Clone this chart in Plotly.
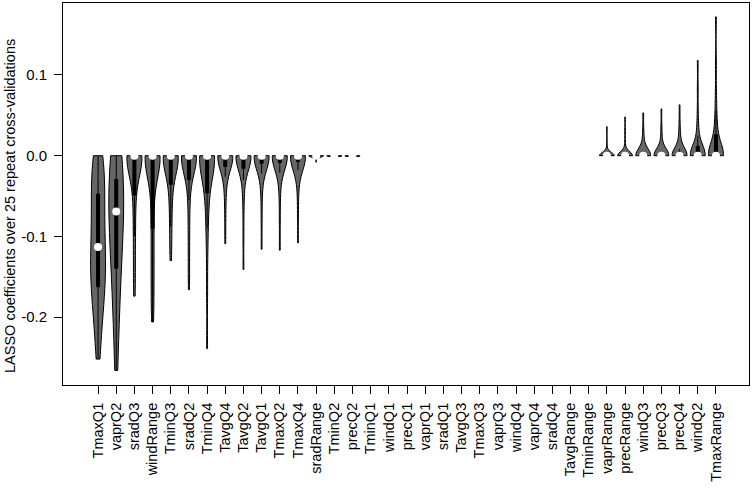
import numpy as np
import plotly.graph_objects as go

# ---------------- data (LASSO coefficients, 25 repeats per variable) ----------------
variables = ["TmaxQ1", "vaprQ2", "sradQ3", "windRange", "TminQ3", "sradQ2", "TminQ4",
             "TavgQ4", "TavgQ2", "TavgQ1", "TmaxQ2", "TmaxQ4", "sradRange", "TminQ2",
             "precQ2", "TminQ1", "windQ1", "precQ1", "vaprQ1", "sradQ1", "TavgQ3",
             "TmaxQ3", "vaprQ3", "windQ4", "vaprQ4", "sradQ4", "TavgRange", "TminRange",
             "vaprRange", "precRange", "windQ3", "precQ3", "precQ4", "windQ2", "TmaxRange"]

coef_TmaxQ1 = [0, 0, -0.010, -0.020, -0.030, -0.040, -0.050, -0.060, -0.070, -0.080, -0.090, -0.100, -0.113,
               -0.120, -0.128, -0.136, -0.144, -0.152, -0.160, -0.170, -0.180, -0.192, -0.205, -0.225, -0.252]
coef_vaprQ2 = [0, 0, -0.006, -0.012, -0.018, -0.024, -0.031, -0.038, -0.045, -0.052, -0.058, -0.064, -0.069,
               -0.076, -0.086, -0.097, -0.109, -0.122, -0.136, -0.150, -0.165, -0.182, -0.202, -0.228, -0.266]
coef_sradQ3 = [0, 0, 0, 0, 0, 0, 0, 0, 0, 0, 0, 0, 0, 0,
               -0.005, -0.012, -0.020, -0.030, -0.045, -0.060, -0.080, -0.100, -0.125, -0.150, -0.174]
coef_windRange = [0, 0, 0, 0, 0, 0, 0, 0, 0, 0, 0, 0, 0,
                  -0.008, -0.018, -0.030, -0.045, -0.065, -0.085, -0.105, -0.125, -0.145, -0.165, -0.185, -0.206]
coef_TminQ3 = [0, 0, 0, 0, 0, 0, 0, 0, 0, 0, 0, 0, 0, 0,
               -0.004, -0.009, -0.016, -0.024, -0.033, -0.043, -0.055, -0.070, -0.088, -0.108, -0.130]
coef_sradQ2 = [0, 0, 0, 0, 0, 0, 0, 0, 0, 0, 0, 0, 0, 0, 0,
               -0.004, -0.010, -0.018, -0.027, -0.038, -0.055, -0.078, -0.105, -0.135, -0.166]
coef_TminQ4 = [0, 0, 0, 0, 0, 0, 0, 0, 0, 0, 0, 0, 0,
               -0.004, -0.009, -0.016, -0.024, -0.033, -0.043, -0.055, -0.070, -0.090, -0.120, -0.170, -0.239]
coef_TavgQ4 = [0, 0, 0, 0, 0, 0, 0, 0, 0, 0, 0, 0, 0, 0, 0, 0,
               -0.003, -0.007, -0.012, -0.018, -0.026, -0.037, -0.052, -0.078, -0.109]
coef_TavgQ2 = [0, 0, 0, 0, 0, 0, 0, 0, 0, 0, 0, 0, 0, 0, 0, 0,
               -0.003, -0.008, -0.014, -0.021, -0.030, -0.043, -0.065, -0.100, -0.141]
coef_TavgQ1 = [0, 0, 0, 0, 0, 0, 0, 0, 0, 0, 0, 0, 0, 0, 0, 0, 0,
               -0.003, -0.008, -0.014, -0.022, -0.033, -0.050, -0.080, -0.116]
coef_TmaxQ2 = [0, 0, 0, 0, 0, 0, 0, 0, 0, 0, 0, 0, 0, 0, 0, 0, 0,
               -0.003, -0.007, -0.013, -0.021, -0.032, -0.050, -0.080, -0.117]
coef_TmaxQ4 = [0, 0, 0, 0, 0, 0, 0, 0, 0, 0, 0, 0, 0, 0, 0, 0, 0,
               -0.003, -0.006, -0.011, -0.018, -0.027, -0.042, -0.068, -0.108]
coef_sradRange = [0, 0, 0, 0, 0, 0, 0, 0, 0, 0, 0, 0, 0, 0, 0, 0, 0, 0, 0, 0, 0, 0, 0, 0, -0.008]
coef_TminQ2 = [0, 0, 0, 0, 0, 0, 0, 0, 0, 0, 0, 0, 0, 0, 0, 0, 0, 0, 0, 0, 0, 0, 0, 0, -0.001]
coef_precQ2 = [0, 0, 0, 0, 0, 0, 0, 0, 0, 0, 0, 0, 0, 0, 0, 0, 0, 0, 0, 0, 0, 0, 0, 0, -0.001]
coef_TminQ1 = [0, 0, 0, 0, 0, 0, 0, 0, 0, 0, 0, 0, 0, 0, 0, 0, 0, 0, 0, 0, 0, 0, 0, 0, 0]
coef_windQ1 = [0, 0, 0, 0, 0, 0, 0, 0, 0, 0, 0, 0, 0, 0, 0, 0, 0, 0, 0, 0, 0, 0, 0, 0, 0]
coef_precQ1 = [0, 0, 0, 0, 0, 0, 0, 0, 0, 0, 0, 0, 0, 0, 0, 0, 0, 0, 0, 0, 0, 0, 0, 0, 0]
coef_vaprQ1 = [0, 0, 0, 0, 0, 0, 0, 0, 0, 0, 0, 0, 0, 0, 0, 0, 0, 0, 0, 0, 0, 0, 0, 0, 0]
coef_sradQ1 = [0, 0, 0, 0, 0, 0, 0, 0, 0, 0, 0, 0, 0, 0, 0, 0, 0, 0, 0, 0, 0, 0, 0, 0, 0]
coef_TavgQ3 = [0, 0, 0, 0, 0, 0, 0, 0, 0, 0, 0, 0, 0, 0, 0, 0, 0, 0, 0, 0, 0, 0, 0, 0, 0]
coef_TmaxQ3 = [0, 0, 0, 0, 0, 0, 0, 0, 0, 0, 0, 0, 0, 0, 0, 0, 0, 0, 0, 0, 0, 0, 0, 0, 0]
coef_vaprQ3 = [0, 0, 0, 0, 0, 0, 0, 0, 0, 0, 0, 0, 0, 0, 0, 0, 0, 0, 0, 0, 0, 0, 0, 0, 0]
coef_windQ4 = [0, 0, 0, 0, 0, 0, 0, 0, 0, 0, 0, 0, 0, 0, 0, 0, 0, 0, 0, 0, 0, 0, 0, 0, 0]
coef_vaprQ4 = [0, 0, 0, 0, 0, 0, 0, 0, 0, 0, 0, 0, 0, 0, 0, 0, 0, 0, 0, 0, 0, 0, 0, 0, 0]
coef_sradQ4 = [0, 0, 0, 0, 0, 0, 0, 0, 0, 0, 0, 0, 0, 0, 0, 0, 0, 0, 0, 0, 0, 0, 0, 0, 0]
coef_TavgRange = [0, 0, 0, 0, 0, 0, 0, 0, 0, 0, 0, 0, 0, 0, 0, 0, 0, 0, 0, 0, 0, 0, 0, 0, 0]
coef_TminRange = [0, 0, 0, 0, 0, 0, 0, 0, 0, 0, 0, 0, 0, 0, 0, 0, 0, 0, 0, 0, 0, 0, 0, 0, 0]
coef_vaprRange = [0, 0, 0, 0, 0, 0, 0, 0, 0, 0, 0, 0, 0, 0, 0, 0, 0, 0, 0, 0, 0, 0, 0.008, 0.020, 0.036]
coef_precRange = [0, 0, 0, 0, 0, 0, 0, 0, 0, 0, 0, 0, 0, 0, 0, 0, 0, 0, 0, 0, 0, 0.006, 0.016, 0.030, 0.048]
coef_windQ3 = [0, 0, 0, 0, 0, 0, 0, 0, 0, 0, 0, 0, 0, 0, 0, 0, 0, 0, 0,
               0.004, 0.009, 0.015, 0.022, 0.034, 0.053]
coef_precQ3 = [0, 0, 0, 0, 0, 0, 0, 0, 0, 0, 0, 0, 0, 0, 0, 0, 0, 0, 0,
               0.004, 0.010, 0.016, 0.024, 0.037, 0.058]
coef_precQ4 = [0, 0, 0, 0, 0, 0, 0, 0, 0, 0, 0, 0, 0, 0, 0, 0, 0, 0,
               0.003, 0.008, 0.014, 0.020, 0.028, 0.042, 0.063]
coef_windQ2 = [0, 0, 0, 0, 0, 0, 0, 0, 0, 0, 0, 0, 0, 0, 0, 0, 0,
               0.004, 0.010, 0.017, 0.025, 0.035, 0.052, 0.082, 0.118]
coef_TmaxRange = [0, 0, 0, 0, 0, 0, 0, 0, 0, 0, 0, 0, 0, 0, 0,
                  0.005, 0.011, 0.017, 0.024, 0.032, 0.042, 0.056, 0.078, 0.115, 0.172]

coefs = [coef_TmaxQ1, coef_vaprQ2, coef_sradQ3, coef_windRange, coef_TminQ3, coef_sradQ2,
         coef_TminQ4, coef_TavgQ4, coef_TavgQ2, coef_TavgQ1, coef_TmaxQ2, coef_TmaxQ4,
         coef_sradRange, coef_TminQ2, coef_precQ2, coef_TminQ1, coef_windQ1, coef_precQ1,
         coef_vaprQ1, coef_sradQ1, coef_TavgQ3, coef_TmaxQ3, coef_vaprQ3, coef_windQ4,
         coef_vaprQ4, coef_sradQ4, coef_TavgRange, coef_TminRange, coef_vaprRange,
         coef_precRange, coef_windQ3, coef_precQ3, coef_precQ4, coef_windQ2, coef_TmaxRange]

y_tick_vals = [-0.2, -0.1, 0.0, 0.1]
y_tick_text = ["-0.2", "-0.1", "0.0", "0.1"]
y_title = "LASSO coefficients over 25 repeat cross-validations"

# ---------------- style ----------------
FONT = "Liberation Sans, Arial, Helvetica, sans-serif"
FILL = "#666666"
default_bw = 0.016
bw_style = {"TmaxQ1": 0.03, "vaprQ2": 0.058, "sradQ3": 0.022, "windRange": 0.024,
            "TminQ3": 0.02, "sradQ2": 0.02, "TminQ4": 0.024,
            "sradRange": 0.002, "TminQ2": 0.002, "precQ2": 0.002,
            "vaprRange": 0.004, "precRange": 0.005, "windQ3": 0.008,
            "precQ3": 0.008, "precQ4": 0.009, "windQ2": 0.012, "TmaxRange": 0.014}

fig = go.Figure()
for name, vals in zip(variables, coefs):
    arr = np.asarray(vals, dtype=float)
    if np.ptp(arr) == 0:
        continue  # all coefficients zero -> nothing drawn
    fig.add_trace(go.Violin(
        x=[name] * len(arr), y=arr,
        spanmode="hard", scalemode="width", width=0.82,
        bandwidth=bw_style.get(name, default_bw),
        fillcolor=FILL, line=dict(color="black", width=1),
        points=False, box=dict(visible=True, width=0.2, fillcolor="black",
                               line=dict(color="black", width=1)),
        meanline=dict(visible=False), showlegend=False, hoverinfo="skip"))

medians = [float(np.median(v)) for v in coefs]
fig.add_trace(go.Scatter(x=variables, y=medians, mode="markers",
                         marker=dict(color="white", size=8, line=dict(width=0)),
                         showlegend=False, hoverinfo="skip", cliponaxis=False))

fig.update_layout(
    width=752, height=488,
    margin=dict(l=63, r=3, t=3, b=103, autoexpand=False),
    paper_bgcolor="white", plot_bgcolor="white",
    violinmode="overlay",
    font=dict(family=FONT, size=15, color="black"),
    annotations=[dict(text=y_title, textangle=-90, xref="paper", yref="paper",
                      x=(10 - 63) / 686, y=(385 - 206) / 382, xanchor="center",
                      yanchor="middle", showarrow=False,
                      font=dict(family=FONT, size=14.5, color="black"))],
)
fig.update_xaxes(type="category", categoryorder="array", categoryarray=variables,
                 range=[-1.93, 35.82], tickangle=-90, ticks="outside", ticklen=8,
                 tickcolor="black", showline=True, mirror=True, linecolor="black",
                 linewidth=1, showgrid=False, zeroline=False, ticklabelstandoff=3,
                 automargin=False, tickfont=dict(family=FONT, size=14.5))
fig.update_yaxes(range=[-0.2841, 0.1892], tickvals=y_tick_vals, ticktext=y_tick_text,
                 ticks="outside", ticklen=8, tickcolor="black", showline=True, mirror=True,
                 linecolor="black", linewidth=1, showgrid=False, zeroline=False,
                 ticklabelstandoff=4, automargin=False, tickfont=dict(family=FONT, size=15))

fig.write_html("out.html", config={"displayModeBar": False},
               post_script="document.body.style.margin='0px';document.body.style.overflow='hidden';")
